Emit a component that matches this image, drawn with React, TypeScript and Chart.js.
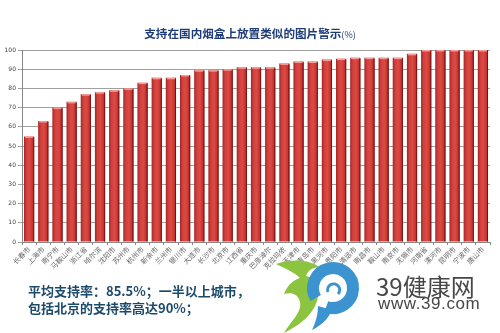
import React, { useEffect, useRef } from "react";
import { Chart, registerables } from "chart.js";

Chart.register(...registerables);

const cities = [
  "长春市", "上海市", "南宁市", "马鞍山市", "浙江省", "哈尔滨", "沈阳市", "苏州市", "杭州市",
  "新余市", "兰州市", "银川市", "大连市", "长沙市", "北京市", "江西省", "重庆市", "巴彦淖尔",
  "克拉玛依", "天津市", "青岛市", "黑河市", "贵阳市", "清远市", "南昌市", "鞍山市", "南京市",
  "无锡市", "河南省", "漯河市", "昆明市", "宁波市", "唐山市",
];

const supportRates = [
  55, 63, 70, 73, 77, 78, 79, 80, 83,
  85.5, 85.5, 87, 89.5, 89.5, 90, 91, 91, 91,
  93, 94, 94, 95, 95.5, 96, 96, 96, 96,
  98, 100, 100, 100, 100, 100,
];

const yTicks = [0, 10, 20, 30, 40, 50, 60, 70, 80, 90, 100];

const titleText = "支持在国内烟盒上放置类似的图片警示";
const titleUnit = "(%)";
const noteLines = ["平均支持率：85.5%；一半以上城市，", "包括北京的支持率高达90%；"];
const logoName = "39健康网";
const logoUrl = "www.39.com";

const BAR_PCT = 0.72;

const capPlugin = {
  id: "barCaps",
  afterDatasetsDraw(chart: any) {
    const meta = chart.getDatasetMeta(0);
    const ctx = chart.ctx;
    ctx.save();
    meta.data.forEach((bar: any) => {
      const w = bar.width;
      const x0 = bar.x - w / 2;
      ctx.fillStyle = "rgba(255,170,165,0.85)";
      ctx.fillRect(x0 + 1, bar.y, w - 2, 1.5);
      ctx.fillStyle = "rgba(120,20,20,0.9)";
      ctx.fillRect(x0 + w - 1, bar.y + 1, 1, bar.base - bar.y - 1);
    });
    ctx.restore();
  },
};

export default function App() {
  const canvasRef = useRef<HTMLCanvasElement | null>(null);

  useEffect(() => {
    if (!canvasRef.current) return;
    const chart = new Chart(canvasRef.current, {
      type: "bar",
      data: {
        labels: cities,
        datasets: [
          {
            data: supportRates,
            barPercentage: BAR_PCT,
            categoryPercentage: 1,
            borderWidth: 0,
            backgroundColor: (c: any) => {
              const ch = c.chart;
              const xs = ch.scales && ch.scales.x;
              if (!xs || !ch.chartArea || c.dataIndex === undefined) return "#c93a38";
              const x = xs.getPixelForValue(c.dataIndex);
              const w = ((ch.chartArea.right - ch.chartArea.left) / cities.length) * BAR_PCT;
              const g = ch.ctx.createLinearGradient(x - w / 2, 0, x + w / 2, 0);
              g.addColorStop(0, "#a32522");
              g.addColorStop(0.25, "#d2403d");
              g.addColorStop(0.55, "#dc4a46");
              g.addColorStop(0.85, "#c5332f");
              g.addColorStop(1, "#8e1b18");
              return g;
            },
          },
        ],
      },
      options: {
        animation: false,
        responsive: false,
        maintainAspectRatio: false,
        layout: { padding: { top: 50, right: 10, left: 0, bottom: 0 } },
        plugins: {
          legend: { display: false },
          title: { display: false },
          tooltip: { enabled: false },
        },
        scales: {
          x: {
            offset: true,
            grid: {
              display: true,
              offset: true,
              drawOnChartArea: false,
              drawTicks: true,
              tickLength: 3,
              color: "#888",
            },
            border: { display: true, color: "#888" },
            ticks: {
              autoSkip: false,
              minRotation: 45,
              maxRotation: 45,
              padding: 0,
              color: "#666",
              font: { family: "'Noto Sans CJK SC'", size: 7 },
            },
            afterFit: (s: any) => {
              s.height = 91;
            },
          },
          y: {
            min: 0,
            max: 100,
            afterBuildTicks: (s: any) => {
              s.ticks = yTicks.map((v) => ({ value: v }));
            },
            grid: {
              color: "#a0a0a0",
              lineWidth: 1,
              tickLength: 4,
              drawTicks: true,
            },
            border: { display: true, color: "#888" },
            ticks: {
              padding: 2,
              color: "#444",
              font: { family: "'DejaVu Sans'", size: 6 },
            },
            afterFit: (s: any) => {
              s.width = 22;
            },
          },
        },
      },
      plugins: [capPlugin],
    } as any);
    return () => chart.destroy();
  }, []);

  return (
    <div
      style={{
        position: "absolute",
        left: 0,
        top: 0,
        width: 500,
        height: 333,
        background: "#fff",
        overflow: "hidden",
      }}
    >
      <canvas ref={canvasRef} width={500} height={333} style={{ position: "absolute", left: 0, top: 0 }} />
      <div
        style={{
          position: "absolute",
          left: 0,
          top: 22,
          width: 500,
          textAlign: "center",
          fontFamily: "'Noto Sans CJK SC'",
          color: "#1e3c78",
          lineHeight: "18px",
          whiteSpace: "nowrap",
        }}
      >
        <span style={{ fontSize: 11.6, fontWeight: 700 }}>{titleText}</span>
        <span style={{ fontSize: 9 }}>{titleUnit}</span>
      </div>
      <div
        style={{
          position: "absolute",
          left: 28,
          top: 283,
          fontFamily: "'Noto Sans CJK SC'",
          fontWeight: 700,
          fontSize: 13,
          lineHeight: "16.5px",
          color: "#1b4a6b",
          whiteSpace: "nowrap",
        }}
      >
        <div>{noteLines[0]}</div>
        <div>{noteLines[1]}</div>
      </div>
      <svg
        width={110}
        height={80}
        viewBox="0 0 110 80"
        style={{ position: "absolute", left: 262, top: 254 }}
      >
        <path
          d="M14 10 C30 4 50 6 58 14 C52 12 46 16 44 22 C54 24 58 32 56 42 C54 58 40 70 22 79 C30 66 40 58 38 48 C36 40 30 38 22 40 C26 30 32 26 38 24 C32 18 22 14 14 10 Z"
          fill="#8cc43f"
        />
        <path
          d="M 53.7 44 A 20 20 0 1 1 64.2 52.8"
          fill="none"
          stroke="#3b93d0"
          strokeWidth="12"
        />
        <path d="M 70 56 C 66 66 58 72 50 76 C 54 68 56 60 56 52 Z" fill="#3b93d0" />
        <path d="M 66 38 A 6 6 0 1 1 76 40" fill="none" stroke="#3b93d0" strokeWidth="3" />
      </svg>
      <div
        style={{
          position: "absolute",
          left: 376,
          top: 273,
          fontFamily: "'Noto Sans CJK SC'",
          fontSize: 24,
          lineHeight: "26px",
          color: "#474747",
          whiteSpace: "nowrap",
        }}
      >
        {logoName}
      </div>
      <div
        style={{
          position: "absolute",
          left: 378,
          top: 295,
          fontFamily: "'Liberation Sans'",
          fontSize: 17,
          lineHeight: "18px",
          letterSpacing: 0.6,
          color: "#474747",
          whiteSpace: "nowrap",
        }}
      >
        {logoUrl}
      </div>
    </div>
  );
}
